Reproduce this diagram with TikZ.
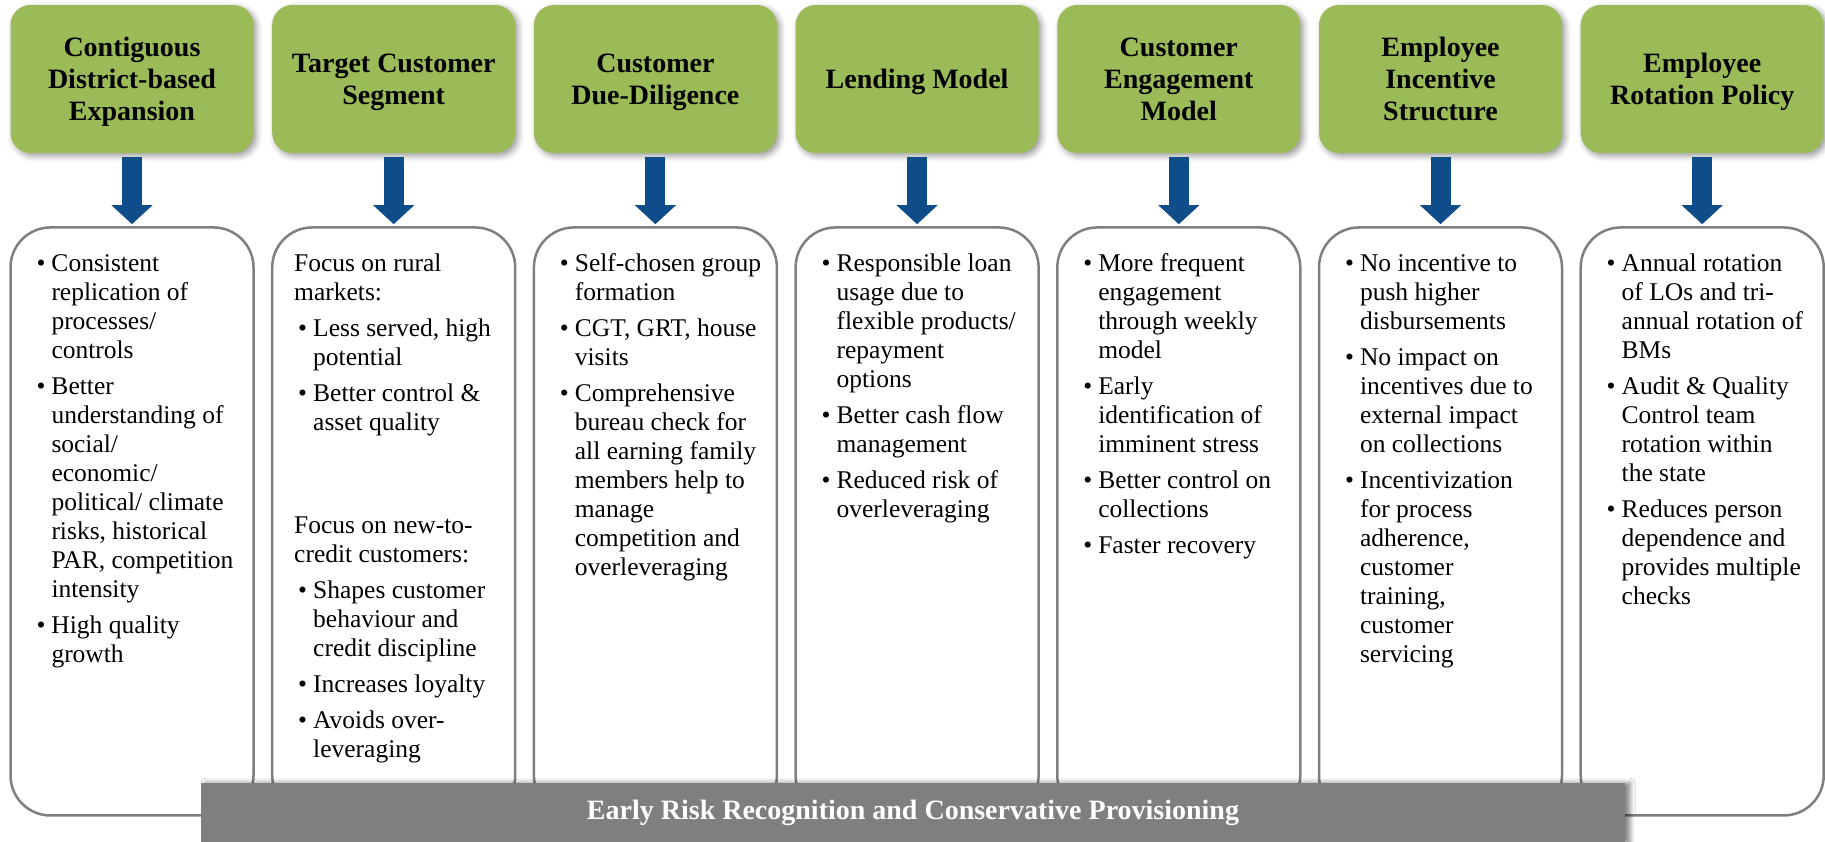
\documentclass[tikz,border=0pt]{standalone}
\usepackage{fontspec}
\setmainfont{Liberation Serif}
\usepackage{xcolor}
\usepackage{tikz}
\usetikzlibrary{arrows.meta, positioning, shadows.blur}
\definecolor{leafgreen}{HTML}{9BBB59}
\definecolor{navyarrow}{HTML}{0F4C8A}
\definecolor{rimgray}{HTML}{7F7F7F}
\newcommand{\bul}[1]{\hangindent=19pt\hangafter=1\noindent\hspace*{4pt}\makebox[15pt][l]{\textbullet}#1\par}
\newcommand{\bodytext}[1]{\hspace*{22pt}\parbox[t][540pt][t]{221pt}{\parindent=0pt\parskip=7pt\hyphenpenalty=10000\leavevmode\rule{0pt}{20pt}\ignorespaces#1}}
\tikzset{
  head/.style={rectangle, rounded corners=20pt, fill=leafgreen, minimum width=243pt, minimum height=148pt, inner sep=4pt, align=center, text depth=-5pt, font=\bfseries\fontsize{28pt}{32pt}\selectfont, blur shadow={shadow xshift=3pt, shadow yshift=-3pt, shadow blur radius=6pt, shadow opacity=40}},
  body/.style={rectangle, rounded corners=40pt, draw=rimgray, line width=2.5pt, fill=white, minimum width=243pt, minimum height=588pt, inner xsep=0pt, inner ysep=24pt, font=\fontsize{25.5pt}{29pt}\selectfont},
  downarr/.style={-{Triangle[width=40pt,length=19pt]}, line width=20pt, navyarrow, shorten <=4pt, shorten >=2pt},
  banner/.style={rectangle, fill=rimgray, text=white, minimum width=1424pt, minimum height=60pt, font=\bfseries\fontsize{28pt}{32pt}\selectfont, blur shadow={shadow xshift=5pt, shadow yshift=0pt, shadow blur radius=5pt, shadow opacity=50}},
}
\begin{document}
\begin{tikzpicture}[node distance=73pt and 18.3pt]
\useasboundingbox (0,0) rectangle (1825pt,-841pt);
\node[head] (h1) at (132pt,-79pt) {Contiguous\\District-based\\Expansion};
\node[head, right=of h1] (h2) {Target Customer\\Segment};
\node[head, right=of h2] (h3) {Customer\\Due-Diligence};
\node[head, right=of h3] (h4) {Lending Model};
\node[head, right=of h4] (h5) {Customer\\Engagement\\Model};
\node[head, right=of h5] (h6) {Employee\\Incentive\\Structure};
\node[head, right=of h6] (h7) {Employee\\Rotation Policy};

\node[body, below=of h1] (b1) {\bodytext{%
\bul{Consistent\\replication of\\processes/\\controls}
\bul{Better\\understanding of\\social/\\economic/\\political/ climate\\risks, historical\\PAR, competition\\intensity}
\bul{High quality\\growth}}};
\node[body, below=of h2] (b2) {\bodytext{%
Focus on rural\\markets:\par
\bul{Less served, high\\potential}
\bul{Better control \&\\asset quality}
\vspace{67pt}
Focus on new-to-\\credit customers:\par
\bul{Shapes customer\\behaviour and\\credit discipline}
\bul{Increases loyalty}
\bul{Avoids over-\\leveraging}}};
\node[body, below=of h3] (b3) {\bodytext{%
\bul{Self-chosen group\\formation}
\bul{CGT, GRT, house\\visits}
\bul{Comprehensive\\bureau check for\\all earning family\\members help to\\manage\\competition and\\overleveraging}}};
\node[body, below=of h4] (b4) {\bodytext{%
\bul{Responsible loan\\usage due to\\flexible products/\\repayment\\options}
\bul{Better cash flow\\management}
\bul{Reduced risk of\\overleveraging}}};
\node[body, below=of h5] (b5) {\bodytext{%
\bul{More frequent\\engagement\\through weekly\\model}
\bul{Early\\identification of\\imminent stress}
\bul{Better control on\\collections}
\bul{Faster recovery}}};
\node[body, below=of h6] (b6) {\bodytext{%
\bul{No incentive to\\push higher\\disbursements}
\bul{No impact on\\incentives due to\\external impact\\on collections}
\bul{Incentivization\\for process\\adherence,\\customer\\training,\\customer\\servicing}}};
\node[body, below=of h7] (b7) {\bodytext{%
\bul{Annual rotation\\of LOs and tri-\\annual rotation of\\BMs}
\bul{Audit \& Quality\\Control team\\rotation within\\the state}
\bul{Reduces person\\dependence and\\provides multiple\\checks}}};

\draw[downarr] (h1.south) -- (b1.north); \draw[downarr] (h2.south) -- (b2.north);
\draw[downarr] (h3.south) -- (b3.north); \draw[downarr] (h4.south) -- (b4.north);
\draw[downarr] (h5.south) -- (b5.north); \draw[downarr] (h6.south) -- (b6.north);
\draw[downarr] (h7.south) -- (b7.north);

\node[banner] (risk) at (913pt,-813pt) {Early Risk Recognition and Conservative Provisioning};
\end{tikzpicture}
\end{document}
